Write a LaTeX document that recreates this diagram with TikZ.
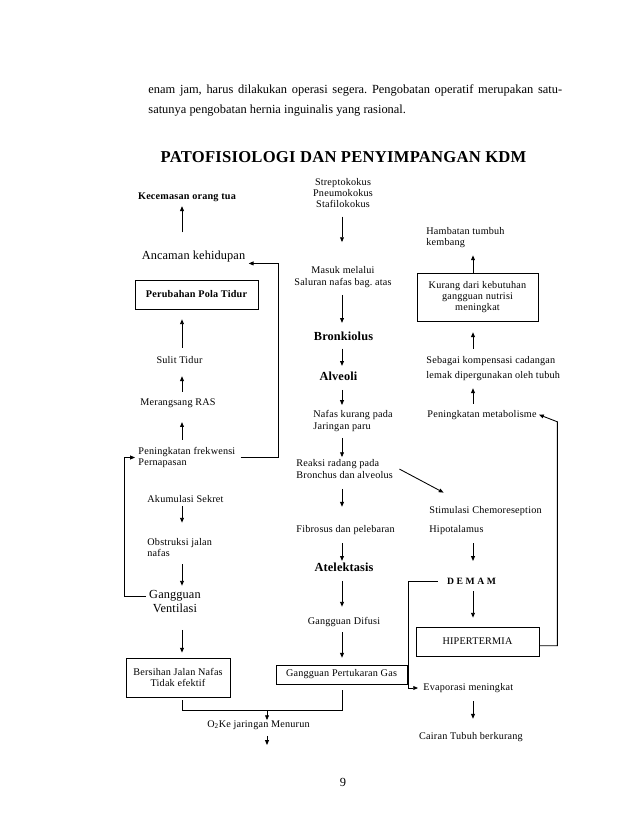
\documentclass[tikz,border=0pt]{standalone}
\usepackage{fontspec}
\setmainfont{Liberation Serif}
\newfontfamily\diagfont[LetterSpace=2]{Liberation Serif}
\newfontfamily\bigfont[LetterSpace=1]{Liberation Serif}
\newfontfamily\titlefont[LetterSpace=1.5]{Liberation Serif}
\usetikzlibrary{arrows.meta,calc}
\frenchspacing

\begin{document}
\begin{tikzpicture}[x=0.933pt,y=-0.933pt,line width=0.8pt,
  arr/.style={-{Triangle[length=4.5pt,width=3.6pt]}},
  txt/.style={inner sep=0pt,font=\diagfont\fontsize{9.5}{10.5}\selectfont},
  big/.style={inner sep=0pt,font=\bigfont\fontsize{11.5}{12.5}\selectfont},
  head/.style={inner sep=0pt,font=\bigfont\bfseries\fontsize{11.5}{12.5}\selectfont},
  box/.style={txt,draw,line width=0.6pt,align=center}]

  \fill[white] (0,0) rectangle (638,826);
  \useasboundingbox (0,0) rectangle (638,826);

  \coordinate (L) at (182,0);
  \coordinate (M) at (342,0);
  \coordinate (R) at (473,0);

  % text above the diagram
  \node[inner sep=0pt,anchor=west,font=\fontsize{11.6}{14}\selectfont] (t1) at (148,90)
    {\makebox[386pt][s]{enam jam, harus dilakukan operasi segera. Pengobatan operatif merupakan satu-}};
  \node[inner sep=0pt,anchor=west,font=\fontsize{11.6}{14}\selectfont] (t2) at (148,111)
    {satunya pengobatan hernia inguinalis yang rasional.};
  \node[inner sep=0pt,font=\titlefont\bfseries\fontsize{15.5}{17}\selectfont] (title) at (343.5,157)
    {PATOFISIOLOGI DAN PENYIMPANGAN KDM};

  % left column
  \node[txt] (kec) at (187,197) {\bfseries Kecemasan orang tua};
  \node[big] (anc) at (193.5,257) {Ancaman kehidupan};
  \node[box,minimum width=114.8pt,minimum height=27.1pt] (pol) at (196.5,294.5) {\bfseries Perubahan Pola Tidur};
  \node[txt] (sul) at (179.5,360) {Sulit Tidur};
  \node[txt] (ras) at (178,403) {Merangsang RAS};
  \node[txt,anchor=west,align=left] (frek) at (138,457.5) {Peningkatan frekwensi\\Pernapasan};
  \node[txt] (aku) at (185.5,499) {Akumulasi Sekret};
  \node[txt,anchor=west,align=left] (obs) at (147,547.5) {Obstruksi jalan\\nafas};
  \node[big,align=center] (ven) at (175,601.5) {Gangguan\\Ventilasi};
  \node[box,minimum width=97pt,minimum height=36.4pt] (ber) at (178,677.5) {Bersihan Jalan Nafas\\Tidak efektif};
  \node[txt] (o2) at (258.5,725) {O\textsubscript{2}Ke jaringan Menurun};

  % middle column
  \node[txt,align=center] (str) at (343,193) {Streptokokus\\Pneumokokus\\Stafilokokus};
  \node[txt,align=center] (mas) at (343,277) {Masuk melalui\\Saluran nafas bag. atas};
  \node[head] (bro) at (343.5,336) {Bronkiolus};
  \node[head] (alv) at (338.5,376) {Alveoli};
  \node[txt,anchor=west,align=left] (naf) at (313,421) {Nafas kurang pada\\Jaringan paru};
  \node[txt,anchor=west,align=left] (rea) at (296,469) {Reaksi radang pada\\Bronchus dan alveolus};
  \node[txt,anchor=west] (fib) at (296,530) {Fibrosus dan pelebaran};
  \node[head] (ate) at (344,567) {Atelektasis};
  \node[txt] (dif) at (344,622) {Gangguan Difusi};
  \node[box,minimum width=122.2pt,minimum height=17.7pt] (gas) at (341.5,674.5) {Gangguan Pertukaran Gas};

  % right column
  \node[txt,anchor=west,align=left] (ham) at (426,237.5) {Hambatan tumbuh\\kembang};
  \node[box,minimum width=112.9pt,minimum height=44.8pt] (kur) at (477.5,297) {Kurang dari kebutuhan\\gangguan nutrisi\\meningkat};
  \node[txt,anchor=west,align=left] (seb) at (426,368.5) {Sebagai kompensasi cadangan\\[3.5pt]lemak dipergunakan oleh tubuh};
  \node[txt,anchor=west] (met) at (427,415) {Peningkatan metabolisme};
  \node[txt,anchor=west] (sti) at (429,511) {Stimulasi Chemoreseption};
  \node[txt,anchor=west] (hip) at (429,530) {Hipotalamus};
  \node[txt,font=\diagfont\bfseries\fontsize{9}{10.5}\selectfont] (dem) at (471.5,581) {D E M A M};
  \node[box,minimum width=114.8pt,minimum height=27.1pt] (hpr) at (477.5,641.5) {HIPERTERMIA};
  \node[txt,anchor=west] (eva) at (423,688) {Evaporasi meningkat};
  \node[txt] (cai) at (471,737) {Cairan Tubuh berkurang};

  \node[inner sep=0pt,font=\fontsize{11.6}{14}\selectfont] (page) at (343,782) {9};

  % straight arrows
  \path[arr]
    (anc.north -| L) edge[shorten <=17.4pt,shorten >=4pt] (kec.south -| L)
    (sul.north -| L) edge[shorten <=7.7pt,shorten >=9.3pt] (pol.south -| L)
    (ras.north -| L) edge[shorten <=5.8pt,shorten >=11.4pt] (sul.south -| L)
    (frek.north -| L) edge[shorten <=6.7pt,shorten >=13.3pt] (ras.south -| L)
    (aku.south -| L) edge[shorten <=3pt,shorten >=14.2pt] (obs.north -| L)
    (obs.south -| L) edge[shorten <=6.7pt,shorten >=4.2pt] (ven.north -| L)
    (ven.south -| L) edge[shorten <=16pt,shorten >=4.7pt] (ber.north -| L);
  \path[arr]
    (str.south -| M) edge[shorten <=7.7pt,shorten >=22.6pt] (mas.north -| M)
    (mas.south -| M) edge[shorten <=6.7pt,shorten >=7.8pt] (bro.north -| M)
    (bro.south -| M) edge[shorten <=7.2pt,shorten >=5pt] (alv.north -| M)
    (alv.south -| M) edge[shorten <=8.4pt,shorten >=4.9pt] (naf.north -| M)
    (naf.south -| M) edge[shorten <=5.8pt,shorten >=2.1pt] (rea.north -| M)
    (rea.south -| M) edge[shorten <=9.5pt,shorten >=17pt] (fib.north -| M)
    (fib.south -| M) edge[shorten <=7.7pt,shorten >=1.3pt] (ate.north -| M)
    (ate.south -| M) edge[shorten <=8.5pt,shorten >=9.5pt] (dif.north -| M)
    (dif.south -| M) edge[shorten <=4.9pt,shorten >=6.5pt] (gas.north -| M);
  \path[arr]
    (kur.north -| R) edge[shorten >=6.7pt] (ham.south -| R)
    (seb.north -| R) edge[shorten <=6.7pt,shorten >=10.2pt] (kur.south -| R)
    (met.north -| R) edge[shorten <=5.8pt,shorten >=6.7pt] (seb.south -| R)
    (hip.south -| R) edge[shorten <=7.7pt,shorten >=15.3pt] (dem.north -| R)
    (dem.south -| R) edge[shorten <=6.2pt,shorten >=8.4pt] (hpr.north -| R)
    (eva.south -| R) edge[shorten <=7.7pt,shorten >=12.3pt] (cai.north -| R);

  % feedback lines
  \draw[arr,shorten <=4.6pt,shorten >=2.8pt] (frek.east) -- ++(43,0) |- ([yshift=-6pt]anc.east);
  \draw[arr,shorten <=2.8pt,shorten >=2.8pt] ([yshift=5pt]ven.west) -- ++(-24,0) |- (frek.west);
  \draw[arr,shorten <=6.5pt,shorten >=26.5pt] ([yshift=3pt]rea.east) -- ([xshift=37pt]sti.north west);
  \draw[arr,shorten <=8.4pt,shorten >=4.6pt] (dem.west) -- ++(-38,0) |- (eva.west);
  \draw[arr,shorten >=1.9pt] ([yshift=-4pt]hpr.east) -- ++(18,0) -- ++(0,-224) -- ([yshift=1pt]met.east);

  % merge below the boxes
  \draw[shorten <=2.8pt] (ber.south -| L) -- ++(0,13) -| ([yshift=-5.6pt]gas.south -| M);
  \coordinate (mer) at (267,710);
  \coordinate (o2out) at (267,745);
  \draw[arr] (mer) -- (o2.north -| mer);
  \draw[arr,shorten <=5.6pt] (o2.south -| mer) -- (o2out);
\end{tikzpicture}
\end{document}
